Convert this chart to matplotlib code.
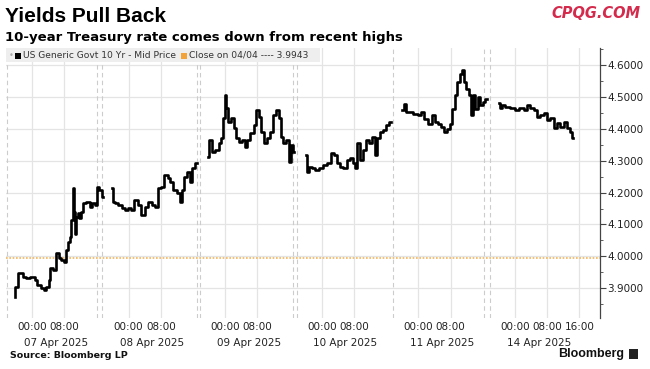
import matplotlib
matplotlib.use("Agg")
import matplotlib.pyplot as plt
from matplotlib.patches import Rectangle
from matplotlib.ticker import MultipleLocator, FormatStrFormatter

# hours since 07 Apr 2025 00:00 (weekend collapsed, 14 Apr starts at 120)
day_starts = [0, 24, 48, 72, 96, 120]
day_names = ["07 Apr 2025", "08 Apr 2025", "09 Apr 2025",
             "10 Apr 2025", "11 Apr 2025", "14 Apr 2025"]
tick_hours = [0, 8, 24, 32, 48, 56, 72, 80, 96, 104, 120, 128, 136]
tick_labels = ["00:00", "08:00"] * 6 + ["16:00"]
session_breaks = [16.1, 17.4, 41.0, 41.7, 64.8, 65.8, 89.7, 112.3, 113.8]
prev_close = 3.9943

# 10-year yield, one list per trading session
h1 = [-4.2, -4.1, -2.7, -2.0, -1.0, 0.25, 1.0, 1.7, 2.7, 3.2, 4.0, 4.2, 4.7,
      5.5, 6.5, 6.7, 7.7, 8.2, 8.7, 9.2, 9.7, 9.9, 10.4, 10.6, 10.9, 11.2,
      11.5, 11.8, 12.4, 12.9, 13.9, 14.7, 15.2, 15.9, 16.4, 17.1, 17.6]
y1 = [3.874, 3.905, 3.948, 3.935, 3.932, 3.935, 3.926, 3.910, 3.900, 3.895,
      3.904, 3.926, 3.963, 3.957, 4.010, 3.995, 3.989, 3.982, 4.020, 4.045,
      4.060, 4.114, 4.214, 4.140, 4.070, 4.124, 4.136, 4.120, 4.140, 4.167,
      4.170, 4.155, 4.167, 4.161, 4.218, 4.208, 4.186]

h2 = [19.9, 20.1, 20.9, 21.9, 22.6, 23.4, 24.3, 25.1, 25.8, 26.8, 27.6, 28.3,
      29.3, 30.1, 30.8, 31.8, 32.5, 33.3, 34.3, 34.5, 35.5, 36.3, 37.0, 37.5,
      38.0, 38.8, 39.5, 40.2, 41.0]
y2 = [4.214, 4.171, 4.167, 4.161, 4.152, 4.145, 4.152, 4.145, 4.177, 4.161,
      4.130, 4.155, 4.170, 4.161, 4.155, 4.214, 4.218, 4.255, 4.246, 4.233,
      4.208, 4.199, 4.171, 4.208, 4.249, 4.265, 4.233, 4.277, 4.293]

h3 = [43.7, 44.2, 45.0, 46.0, 46.7, 47.2, 47.5, 48.2, 48.4, 49.2, 49.9, 50.4,
      51.2, 51.7, 52.4, 53.2, 53.7, 54.7, 55.4, 56.1, 56.6, 57.4, 58.1, 58.6,
      59.6, 60.1, 61.1, 61.6, 62.1, 62.6, 63.4, 64.1, 64.6, 65.1]
y3 = [4.312, 4.365, 4.327, 4.333, 4.355, 4.371, 4.434, 4.506, 4.465, 4.421,
      4.434, 4.402, 4.371, 4.359, 4.365, 4.343, 4.365, 4.387, 4.412, 4.459,
      4.437, 4.390, 4.355, 4.371, 4.390, 4.443, 4.459, 4.434, 4.374, 4.355,
      4.365, 4.296, 4.349, 4.327]

h4 = [68.1, 68.3, 69.1, 69.8, 70.8, 71.8, 72.8, 74.0, 74.5, 75.3, 76.0, 76.8,
      77.8, 78.5, 79.3, 80.0, 80.5, 81.2, 81.7, 82.7, 83.2, 84.0, 85.0, 85.5,
      86.0, 86.7, 87.7, 88.4, 89.2]
y4 = [4.318, 4.265, 4.280, 4.277, 4.271, 4.277, 4.287, 4.293, 4.324, 4.318,
      4.293, 4.280, 4.277, 4.302, 4.308, 4.293, 4.277, 4.355, 4.302, 4.334,
      4.365, 4.355, 4.374, 4.318, 4.371, 4.390, 4.396, 4.412, 4.421]

h5 = [91.9, 92.7, 93.2, 94.2, 95.2, 96.4, 97.1, 97.9, 98.9, 99.6, 100.4,
      101.4, 101.9, 102.6, 103.4, 104.1, 104.8, 105.3, 106.1, 106.6, 107.1,
      107.6, 108.1, 108.8, 109.1, 109.8, 110.3, 111.1, 111.6, 112.3, 113.0]
y5 = [4.459, 4.478, 4.453, 4.453, 4.447, 4.443, 4.453, 4.431, 4.415, 4.443,
      4.421, 4.415, 4.406, 4.390, 4.400, 4.415, 4.462, 4.506, 4.547, 4.572,
      4.584, 4.547, 4.525, 4.506, 4.443, 4.506, 4.462, 4.500, 4.475, 4.484,
      4.494]

h6 = [116.0, 116.3, 117.0, 118.0, 119.3, 120.5, 121.7, 122.5, 123.2, 124.2,
      125.0, 125.7, 126.7, 127.5, 128.2, 129.2, 129.9, 130.7, 131.7, 132.4,
      133.2, 133.9, 134.4]
y6 = [4.481, 4.465, 4.475, 4.469, 4.465, 4.459, 4.465, 4.459, 4.475, 4.465,
      4.459, 4.437, 4.443, 4.450, 4.428, 4.434, 4.402, 4.418, 4.406, 4.421,
      4.402, 4.390, 4.371]

sessions = [(h1, y1), (h2, y2), (h3, y3), (h4, y4), (h5, y5), (h6, y6)]

fig = plt.figure(figsize=(6.5, 3.69), dpi=100)
ax = fig.add_axes([6 / 650, 1 - 318 / 369, 594 / 650, 270 / 369])

grid_c = "#e4e4e4"
ax.set_xlim(-6.46, 141.1)
ax.set_ylim(3.807, 4.653)

for t in tick_hours:
    ax.axvline(t, color=grid_c, lw=0.9, zorder=0)
for v in [3.9, 4.0, 4.1, 4.2, 4.3, 4.4, 4.5, 4.6]:
    ax.axhline(v, color=grid_c, lw=0.9, zorder=0)
for b in session_breaks:
    ax.axvline(b, color="#cccccc", lw=0.8, ls=(0, (4, 3)), zorder=0)
ax.axvline(-6.3, color="#cccccc", lw=0.8, ls=(0, (4, 3)), zorder=0)

ax.axhline(prev_close, color="#f2b45c", lw=1.2, ls=(0, (1, 1)), zorder=1)

for hs, ys in sessions:
    ax.plot(hs, ys, color="black", lw=1.9, drawstyle="steps-mid", zorder=3)

# axes styling
for s in ["top", "left", "bottom"]:
    ax.spines[s].set_visible(False)
ax.spines["right"].set_color("#444444")
ax.spines["right"].set_linewidth(0.9)
ax.yaxis.tick_right()
ax.yaxis.set_major_locator(MultipleLocator(0.1))
ax.yaxis.set_minor_locator(MultipleLocator(0.05))
ax.yaxis.set_major_formatter(FormatStrFormatter("%.4f"))
ax.tick_params(axis="y", which="major", length=4, width=0.8, color="#444444",
               labelsize=7.5, labelcolor="#222222", pad=1)
ax.tick_params(axis="y", which="minor", length=2, width=0.6, color="#444444")
ax.set_yticks([3.9, 4.0, 4.1, 4.2, 4.3, 4.4, 4.5, 4.6])

ax.set_xticks(tick_hours)
ax.set_xticklabels(tick_labels)
ax.tick_params(axis="x", length=0, labelsize=7.5, labelcolor="#222222", pad=3)
for d, name in zip(day_starts, day_names):
    ax.text(d - 2.1, -0.075, name, transform=ax.get_xaxis_transform(),
            ha="left", va="top", fontsize=7.5, color="#222222")

# legend band
ax.add_patch(Rectangle((0, 1 - 14 / 270), (320 - 6) / 594, 14 / 270,
                       transform=ax.transAxes, facecolor="#eeeeee",
                       edgecolor="none", zorder=4))
fig.text(9 / 650, 1 - 55 / 369, "\u2022", fontsize=6, color="#aaaaaa",
         va="center", ha="left")
fig.patches.append(Rectangle((15 / 650, 1 - 59 / 369), 6 / 650, 6 / 369,
                             transform=fig.transFigure, facecolor="black",
                             zorder=5))
fig.text(23 / 650, 1 - 55.5 / 369, "US Generic Govt 10 Yr - Mid Price",
         fontsize=6.6, color="#333333", va="center", ha="left", zorder=6)
fig.patches.append(Rectangle((181 / 650, 1 - 59 / 369), 6 / 650, 6 / 369,
                             transform=fig.transFigure, facecolor="#f2a33a",
                             zorder=5))
fig.text(189 / 650, 1 - 55.5 / 369, "Close on 04/04 ---- 3.9943",
         fontsize=6.6, color="#333333", va="center", ha="left", zorder=6)

# titles and footer
fig.text(5 / 650, 1 - 17 / 369, "Yields Pull Back", fontsize=15,
         fontweight="bold", family="Liberation Sans", color="black",
         va="center", ha="left")
fig.text(5 / 650, 1 - 37 / 369,
         "10-year Treasury rate comes down from recent highs",
         fontsize=9.5, fontweight="bold", color="black", va="center",
         ha="left")
fig.text(640 / 650, 1 - 14 / 369, "CPQG.COM", fontsize=10.5,
         fontweight="bold", style="italic", color="#d42a4c",
         va="center", ha="right")
fig.text(10 / 650, 1 - 355 / 369, "Source: Bloomberg LP", fontsize=6.8,
         fontweight="bold", color="#111111", va="center", ha="left")
fig.text(624 / 650, 1 - 354 / 369, "Bloomberg", fontsize=9,
         fontweight="bold", family="Liberation Sans", color="#111111",
         va="center", ha="right")
fig.patches.append(Rectangle((629 / 650, 1 - 359 / 369), 9 / 650, 10 / 369,
                             transform=fig.transFigure, facecolor="#222222",
                             zorder=5))

fig.savefig("out.png", dpi=100, facecolor="white")
